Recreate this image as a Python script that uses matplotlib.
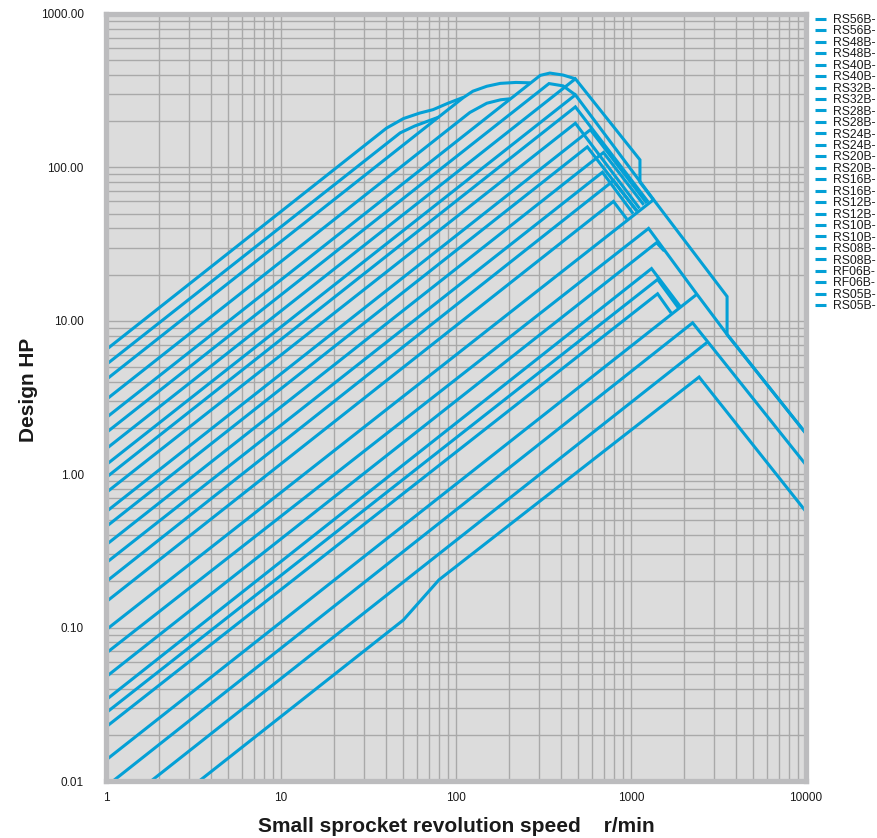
import matplotlib
matplotlib.use("Agg")
import matplotlib.pyplot as plt
from matplotlib.ticker import FixedLocator, FixedFormatter, LogLocator, NullFormatter

# ---- data (rpm, design HP) ----
# legend labels as visible in the reference (cut short after the chain number)
labels = ["RS56B-", "RS56B-", "RS48B-", "RS48B-", "RS40B-", "RS40B-",
          "RS32B-", "RS32B-", "RS28B-", "RS28B-", "RS24B-", "RS24B-",
          "RS20B-", "RS20B-", "RS16B-", "RS16B-", "RS12B-", "RS12B-",
          "RS10B-", "RS10B-", "RS08B-", "RS08B-", "RF06B-", "RF06B-",
          "RS05B-", "RS05B-"]

rpm_01 = [1, 40, 50, 62, 74, 90, 110]
hp_01 = [6.47, 180, 208, 226, 238, 262, 286]
rpm_02 = [1, 48, 58, 68, 80]
hp_02 = [5.17, 168, 186, 199, 213]
rpm_03 = [1, 110, 125, 150, 179, 220, 265]
hp_03 = [4.13, 285, 314, 338, 353, 358, 356]
rpm_04 = [1, 120, 150, 180, 203]
hp_04 = [3.06, 228, 262, 276, 280]
rpm_05 = [1, 303, 344, 409, 481]
hp_05 = [2.33, 398, 412, 400, 378]
rpm_06 = [1, 340, 409, 481]
hp_06 = [1.86, 352, 340, 297]
rpm_07 = [1, 481, 1125, 1125, 1336]
hp_07 = [1.46, 378, 112, 80, 62]
rpm_08 = [1, 481, 1340]
hp_08 = [1.15, 297, 62]
rpm_09 = [1, 481, 1254]
hp_09 = [0.95, 248, 59.5]
rpm_10 = [1, 481, 1119]
hp_10 = [0.757, 194, 54]
rpm_11 = [1, 586, 1230]
hp_11 = [0.568, 176, 58.5]
rpm_12 = [1, 563, 1077]
hp_12 = [0.454, 136, 52]
rpm_13 = [1, 696, 1183]
hp_13 = [0.346, 125, 57]
rpm_14 = [1, 687, 1028]
hp_14 = [0.264, 93, 50]
rpm_15 = [1, 794, 1084]
hp_15 = [0.199, 82, 52]
rpm_16 = [1, 794, 947]
hp_16 = [0.147, 60, 46]
rpm_17 = [1, 1346, 3540, 3540, 10000]
hp_17 = [0.0966, 61.6, 14.4, 8.15, 1.84]
rpm_18 = [1, 1260, 2380, 3540, 10000]
hp_18 = [0.068, 40, 14.9, 8.15, 1.84]
rpm_19 = [1, 1400, 1550]
hp_19 = [0.0477, 32.3, 28.5]
rpm_20 = [1, 1310, 1910]
hp_20 = [0.0338, 21.9, 12.4]
rpm_21 = [1, 1419, 1880]
hp_21 = [0.0278, 18.6, 12.0]
rpm_22 = [1, 1419, 1700]
hp_22 = [0.0225, 15.0, 11.2]
rpm_23 = [1, 2380]
hp_23 = [0.0137, 14.9]
rpm_24 = [1.097, 2250, 10000]
hp_24 = [0.01, 9.7, 1.15]
rpm_25 = [1.81, 2750]
hp_25 = [0.01, 7.3]
rpm_26 = [3.41, 50, 80, 2450, 10000]
hp_26 = [0.01, 0.112, 0.205, 4.3, 0.57]

rpm_series = [rpm_01, rpm_02, rpm_03, rpm_04, rpm_05, rpm_06, rpm_07, rpm_08,
              rpm_09, rpm_10, rpm_11, rpm_12, rpm_13, rpm_14, rpm_15, rpm_16,
              rpm_17, rpm_18, rpm_19, rpm_20, rpm_21, rpm_22, rpm_23, rpm_24,
              rpm_25, rpm_26]
hp_series = [hp_01, hp_02, hp_03, hp_04, hp_05, hp_06, hp_07, hp_08,
             hp_09, hp_10, hp_11, hp_12, hp_13, hp_14, hp_15, hp_16,
             hp_17, hp_18, hp_19, hp_20, hp_21, hp_22, hp_23, hp_24,
             hp_25, hp_26]

x_ticks = [1, 10, 100, 1000, 10000]
x_tick_labels = ["1", "10", "100", "1000", "10000"]
y_ticks = [0.01, 0.1, 1, 10, 100, 1000]
y_tick_labels = ["0.01", "0.10", "1.00", "10.00", "100.00", "1000.00"]

# ---- style ----
LINE = "#04a0d6"
BG = "#dcdcdc"
GRID = "#a9a9a9"
FRAME = "#bcbcbe"
plt.rcParams["font.family"] = ["Liberation Sans", "DejaVu Sans"]

W, H = 877, 838
fig = plt.figure(figsize=(W / 100, H / 100), dpi=100)
ax = fig.add_axes([106 / W, (H - 781) / H, 700 / W, 767 / H])
ax.set_facecolor(BG)

for lab, xs, ys in zip(labels, rpm_series, hp_series):
    ax.plot(xs, ys, color=LINE, lw=2.2, label=lab, solid_joinstyle="miter",
            solid_capstyle="butt", zorder=3)

ax.set_xscale("log")
ax.set_yscale("log")
ax.set_xlim(1, 10000)
ax.set_ylim(0.01, 1000)

ax.xaxis.set_major_locator(FixedLocator(x_ticks))
ax.xaxis.set_major_formatter(FixedFormatter(x_tick_labels))
ax.yaxis.set_major_locator(FixedLocator(y_ticks))
ax.yaxis.set_major_formatter(FixedFormatter(y_tick_labels))
ax.xaxis.set_minor_locator(LogLocator(base=10, subs=range(2, 10), numticks=50))
ax.yaxis.set_minor_locator(LogLocator(base=10, subs=range(2, 10), numticks=50))
ax.xaxis.set_minor_formatter(NullFormatter())
ax.yaxis.set_minor_formatter(NullFormatter())

ax.grid(True, which="both", color=GRID, lw=1.0, zorder=1)
ax.set_axisbelow(True)
ax.tick_params(which="both", length=0)
ax.tick_params(axis="y", pad=16, labelsize=8.5, labelcolor="#1a1a1a")
ax.tick_params(axis="x", pad=8, labelsize=8.5, labelcolor="#1a1a1a")

for sp in ax.spines.values():
    sp.set_color(FRAME)
    sp.set_linewidth(3.8)
    sp.set_zorder(4)

lab_font = dict(family=["Liberation Sans", "DejaVu Sans"],
                fontweight="bold", fontsize=15, color="#1a1a1a")
ax.set_xlabel("Small sprocket revolution speed    r/min", **lab_font)
ax.set_ylabel("Design HP", **lab_font)
ax.xaxis.set_label_coords(0.5, -0.047)
ax.yaxis.set_label_coords(-0.097, 0.51)

leg = ax.legend(loc="upper left", bbox_to_anchor=(815 / W, (H - 14) / H),
                bbox_transform=fig.transFigure, frameon=False, fontsize=8.7,
                handlelength=0.95, handletextpad=0.55, labelspacing=-0.045,
                borderpad=0, borderaxespad=0)
for t in leg.get_texts():
    t.set_color("#1a1a1a")

fig.savefig("out.png", dpi=100, facecolor="white")
